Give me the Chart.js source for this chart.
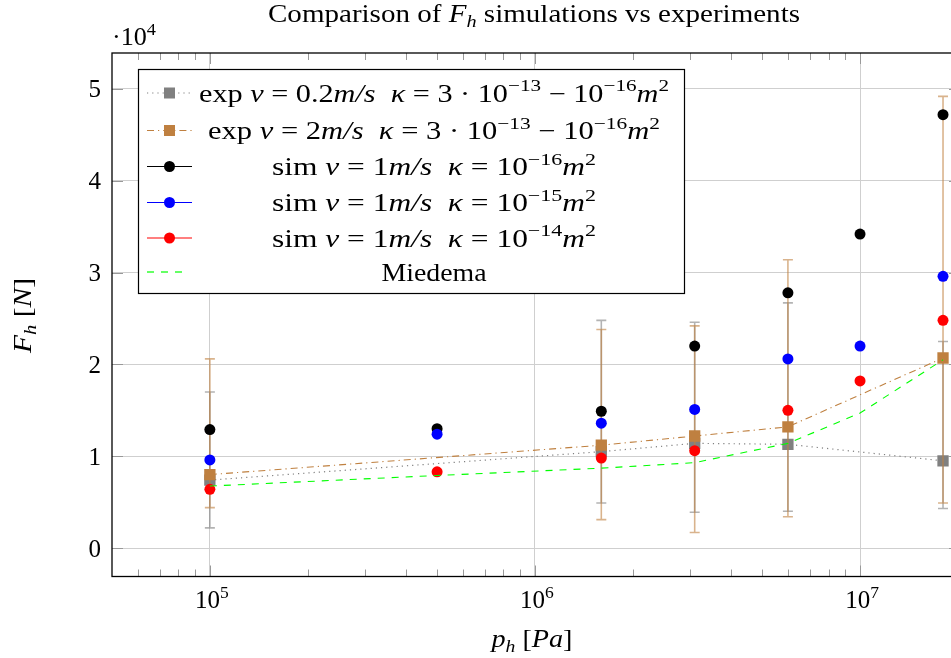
<!DOCTYPE html>
<html>
<head>
<meta charset="utf-8">
<script src="https://cdn.jsdelivr.net/npm/chart.js@4"></script>
<style>
  body { margin: 0; background: #fff; }
  #wrap { width: 951px; height: 658px; overflow: hidden; }
</style>
</head>
<body>
<div id="wrap"><canvas id="myChart" width="970" height="658"></canvas></div>
<script>
// data (forces in N, pressures in Pa)
var expX = [1e5, 1.6e6, 3.1e6, 6e6, 1.8e7]
var expSlowF = [7400, 10500, 11400, 11300, 9500]
var expSlowLow = [2200, 4900, 3900, 4000, 4300]
var expSlowHigh = [17000, 24800, 24600, 26700, 22500]
var expFastF = [8000, 11200, 12200, 13200, 20700]
var expFastLow = [4400, 3100, 1700, 3400, 4900]
var expFastHigh = [20600, 23800, 24200, 31400, 49200]

var simX = [1e5, 5e5, 1.6e6, 3.1e6, 6e6, 1e7, 1.8e7]
var sim16 = [12900, 13000, 14900, 22000, 27800, 34200, 47200]
var sim15 = [9600, 12400, 13600, 15100, 20600, 22000, 29600]
var sim14 = [6400, 8300, 9800, 10600, 15000, 18200, 24800]
var miedema = [6750, 7900, 8700, 9300, 11400, 14700, 20500]

var xMajor = [1e5, 1e6, 1e7]
var yMajor = [0, 10000, 20000, 30000, 40000, 50000]

var GRAY = 'rgb(128,128,128)'
var BROWN = 'rgb(191,128,64)'

function pts(xs, ys){
    return xs.map(function(x, i){ return {x: x, y: ys[i]} })
}

// text with italic / sub / sup runs
function fontFor(r, size){
    var s = r[2] ? size * 0.7 : size
    return (r[1] === 'i' ? 'italic ' : '') + s + 'px "Liberation Serif", "DejaVu Serif", serif'
}
function runsWidth(ctx, runs, size){
    var w = 0
    runs.forEach(function(r){ ctx.font = fontFor(r, size); w += ctx.measureText(r[0]).width })
    return w
}
function drawRuns(ctx, runs, x, y, size, align, target, rot){
    var nat = runsWidth(ctx, runs, size)
    var sx = target ? target / nat : 1
    ctx.save()
    ctx.translate(x, y)
    if(rot) ctx.rotate(rot)
    ctx.scale(sx, 1)
    var cx = align === 'center' ? -nat / 2 : (align === 'right' ? -nat : 0)
    ctx.fillStyle = '#000'
    ctx.textAlign = 'left'
    ctx.textBaseline = 'alphabetic'
    runs.forEach(function(r){
        ctx.font = fontFor(r, size)
        var dy = r[2] === 1 ? -size * 0.42 : (r[2] === -1 ? size * 0.2 : 0)
        ctx.fillText(r[0], cx, dy)
        cx += ctx.measureText(r[0]).width
    })
    ctx.restore()
}

// error bars, drawn under each series' marks
var errorBars = {
    id: 'errorBars',
    beforeDatasetDraw: function(chart, args){
        var ds = chart.data.datasets[args.index]
        if(!ds.errLow) return
        var ctx = chart.ctx, a = chart.chartArea
        var xs = chart.scales.x, ys = chart.scales.y
        ctx.save()
        ctx.beginPath()
        ctx.rect(a.left, a.top, a.right - a.left, a.bottom - a.top)
        ctx.clip()
        ctx.strokeStyle = ds.errColor
        ctx.lineWidth = 1.6
        ds.data.forEach(function(p, i){
            var px = xs.getPixelForValue(p.x)
            var lo = ys.getPixelForValue(ds.errLow[i])
            var hi = ys.getPixelForValue(ds.errHigh[i])
            ctx.beginPath()
            ctx.moveTo(px, lo); ctx.lineTo(px, hi)
            ctx.moveTo(px - 5, lo); ctx.lineTo(px + 5, lo)
            ctx.moveTo(px - 5, hi); ctx.lineTo(px + 5, hi)
            ctx.stroke()
        })
        ctx.restore()
    }
}

var legendRows = [
    {color: GRAY, dash: [1.2, 4], mark: 'rect', runs: [['exp ', 'r'], ['v', 'i'], [' = 0.2', 'r'], ['m/s', 'i'], ['  ', 'r'], ['κ', 'i'], [' = 3 · 10', 'r'], ['−13', 'r', 1], [' − 10', 'r'], ['−16', 'r', 1], ['m', 'i'], ['2', 'r', 1]], w: 470},
    {color: BROWN, dash: [7, 4, 1.2, 4], mark: 'rect', runs: [['exp ', 'r'], ['v', 'i'], [' = 2', 'r'], ['m/s', 'i'], ['  ', 'r'], ['κ', 'i'], [' = 3 · 10', 'r'], ['−13', 'r', 1], [' − 10', 'r'], ['−16', 'r', 1], ['m', 'i'], ['2', 'r', 1]], w: 452},
    {color: '#000', dash: [], mark: 'circle', runs: [['sim ', 'r'], ['v', 'i'], [' = 1', 'r'], ['m/s', 'i'], ['  ', 'r'], ['κ', 'i'], [' = 10', 'r'], ['−16', 'r', 1], ['m', 'i'], ['2', 'r', 1]], w: 324},
    {color: '#00f', dash: [], mark: 'circle', runs: [['sim ', 'r'], ['v', 'i'], [' = 1', 'r'], ['m/s', 'i'], ['  ', 'r'], ['κ', 'i'], [' = 10', 'r'], ['−15', 'r', 1], ['m', 'i'], ['2', 'r', 1]], w: 324},
    {color: '#f00', dash: [], mark: 'circle', runs: [['sim ', 'r'], ['v', 'i'], [' = 1', 'r'], ['m/s', 'i'], ['  ', 'r'], ['κ', 'i'], [' = 10', 'r'], ['−14', 'r', 1], ['m', 'i'], ['2', 'r', 1]], w: 324},
    {color: '#00ff00', dash: [7, 7], mark: null, runs: [['Miedema', 'r']], w: 105}
]
var legendRowY = [93, 130.5, 166.5, 202.5, 238, 272]

// axes decorations, labels and legend box
var decorations = {
    id: 'decorations',
    afterDraw: function(chart){
        var ctx = chart.ctx, a = chart.chartArea
        var xs = chart.scales.x, ys = chart.scales.y

        // minor + major ticks, inward
        ctx.save()
        ctx.strokeStyle = '#999'
        ctx.lineWidth = 1
        for(var k = 4; k <= 7; k++){
            for(var m = 1; m <= 9; m++){
                var v = m * Math.pow(10, k)
                if(v <= xs.min || v >= xs.max) continue
                var px = Math.round(xs.getPixelForValue(v)) + 0.5
                var len = m === 1 ? 11 : 7
                ctx.beginPath()
                ctx.moveTo(px, a.bottom); ctx.lineTo(px, a.bottom - len)
                ctx.moveTo(px, a.top); ctx.lineTo(px, a.top + len)
                ctx.stroke()
            }
        }
        yMajor.forEach(function(v){
            var py = Math.round(ys.getPixelForValue(v)) + 0.5
            ctx.beginPath()
            ctx.moveTo(a.left, py); ctx.lineTo(a.left + 11, py)
            ctx.moveTo(a.right, py); ctx.lineTo(a.right - 11, py)
            ctx.stroke()
        })
        // axis box
        ctx.strokeStyle = '#000'
        ctx.lineWidth = 1.3
        ctx.strokeRect(a.left, a.top, a.right - a.left, a.bottom - a.top)
        ctx.restore()

        // tick labels
        yMajor.forEach(function(v){
            drawRuns(ctx, [[String(v / 10000), 'r']], 101, ys.getPixelForValue(v) + 8.5, 25, 'right')
        })
        xMajor.forEach(function(v){
            drawRuns(ctx, [['10', 'r'], [String(Math.round(Math.log10(v))), 'r', 1]], xs.getPixelForValue(v) + 2, 608, 25, 'center')
        })
        drawRuns(ctx, [['·10', 'r'], ['4', 'r', 1]], 112, 45, 25, 'left', 44)

        // title and axis titles
        drawRuns(ctx, [['Comparison of ', 'r'], ['F', 'i'], ['h', 'i', -1], [' simulations vs experiments', 'r']], 534, 22, 25, 'center', 532)
        drawRuns(ctx, [['p', 'i'], ['h', 'i', -1], [' [', 'r'], ['Pa', 'i'], [']', 'r']], 532, 647, 25, 'center', 81)
        drawRuns(ctx, [['F', 'i'], ['h', 'i', -1], [' [', 'r'], ['N', 'i'], [']', 'r']], 31, 315.5, 25, 'center', 75, -Math.PI / 2)

        // legend
        ctx.save()
        ctx.fillStyle = '#fff'
        ctx.fillRect(138.5, 69.5, 546, 224)
        ctx.strokeStyle = '#000'
        ctx.lineWidth = 1.2
        ctx.strokeRect(138.5, 69.5, 546, 224)
        legendRows.forEach(function(row, i){
            var cy = legendRowY[i]
            ctx.strokeStyle = row.color
            ctx.lineWidth = 1.2
            ctx.setLineDash(row.dash)
            ctx.beginPath()
            ctx.moveTo(147, cy); ctx.lineTo(row.mark ? 192 : 188, cy)
            ctx.stroke()
            ctx.setLineDash([])
            ctx.fillStyle = row.color
            if(row.mark === 'rect'){
                ctx.fillRect(164, cy - 5.5, 11, 11)
            }else if(row.mark === 'circle'){
                ctx.beginPath(); ctx.arc(169.5, cy, 5.5, 0, Math.PI * 2); ctx.fill()
            }
            drawRuns(ctx, row.runs, 434, cy + 8.5, 25, 'center', row.w)
        })
        ctx.restore()
    }
}

var ctx = document.getElementById('myChart').getContext('2d')
var chart = new Chart(ctx, {
    type: 'scatter',
    plugins: [errorBars, decorations],
    data: {
        datasets: [{
            label: 'exp v=0.2',
            data: pts(expX, expSlowF),
            errLow: expSlowLow, errHigh: expSlowHigh, errColor: 'rgba(128,128,128,0.6)',
            showLine: true,
            borderColor: GRAY, backgroundColor: GRAY,
            borderWidth: 1.2, borderDash: [1.2, 4],
            pointStyle: 'rect', pointRadius: 8, pointBorderWidth: 0,
            order: 6
        }, {
            label: 'exp v=2',
            data: pts(expX, expFastF),
            errLow: expFastLow, errHigh: expFastHigh, errColor: 'rgba(191,128,64,0.6)',
            showLine: true,
            borderColor: BROWN, backgroundColor: BROWN,
            borderWidth: 1.1, borderDash: [7, 4, 1.2, 4],
            pointStyle: 'rect', pointRadius: 8, pointBorderWidth: 0,
            order: 5
        }, {
            label: 'sim 1e-16',
            data: pts(simX, sim16),
            showLine: false,
            backgroundColor: '#000', borderColor: '#000',
            pointRadius: 5.5, pointBorderWidth: 0,
            order: 4
        }, {
            label: 'sim 1e-15',
            data: pts(simX, sim15),
            showLine: false,
            backgroundColor: '#00f', borderColor: '#00f',
            pointRadius: 5.5, pointBorderWidth: 0,
            order: 3
        }, {
            label: 'sim 1e-14',
            data: pts(simX, sim14),
            showLine: false,
            backgroundColor: '#f00', borderColor: '#f00',
            pointRadius: 5.5, pointBorderWidth: 0,
            order: 2
        }, {
            label: 'Miedema',
            data: pts(simX, miedema),
            showLine: true,
            borderColor: '#00ff00', borderWidth: 1.1, borderDash: [7, 7],
            pointRadius: 0,
            order: 1
        }]
    },
    options: {
        responsive: false,
        animation: false,
        events: [],
        layout: { padding: { left: 112, top: 53, right: 10, bottom: 81.5 } },
        plugins: {
            legend: { display: false },
            tooltip: { enabled: false }
        },
        scales: {
            x: {
                type: 'logarithmic',
                min: 5e4,
                max: 2.03e7,
                afterBuildTicks: function(scale){
                    scale.ticks = xMajor.map(function(v){ return {value: v} })
                },
                ticks: { display: false },
                grid: { color: '#cfcfcf', lineWidth: 1, drawTicks: false },
                border: { display: false }
            },
            y: {
                min: -3100,
                max: 53920,
                afterBuildTicks: function(scale){
                    scale.ticks = yMajor.map(function(v){ return {value: v} })
                },
                ticks: { display: false },
                grid: { color: '#cfcfcf', lineWidth: 1, drawTicks: false },
                border: { display: false }
            }
        }
    }
})
</script>
</body>
</html>
